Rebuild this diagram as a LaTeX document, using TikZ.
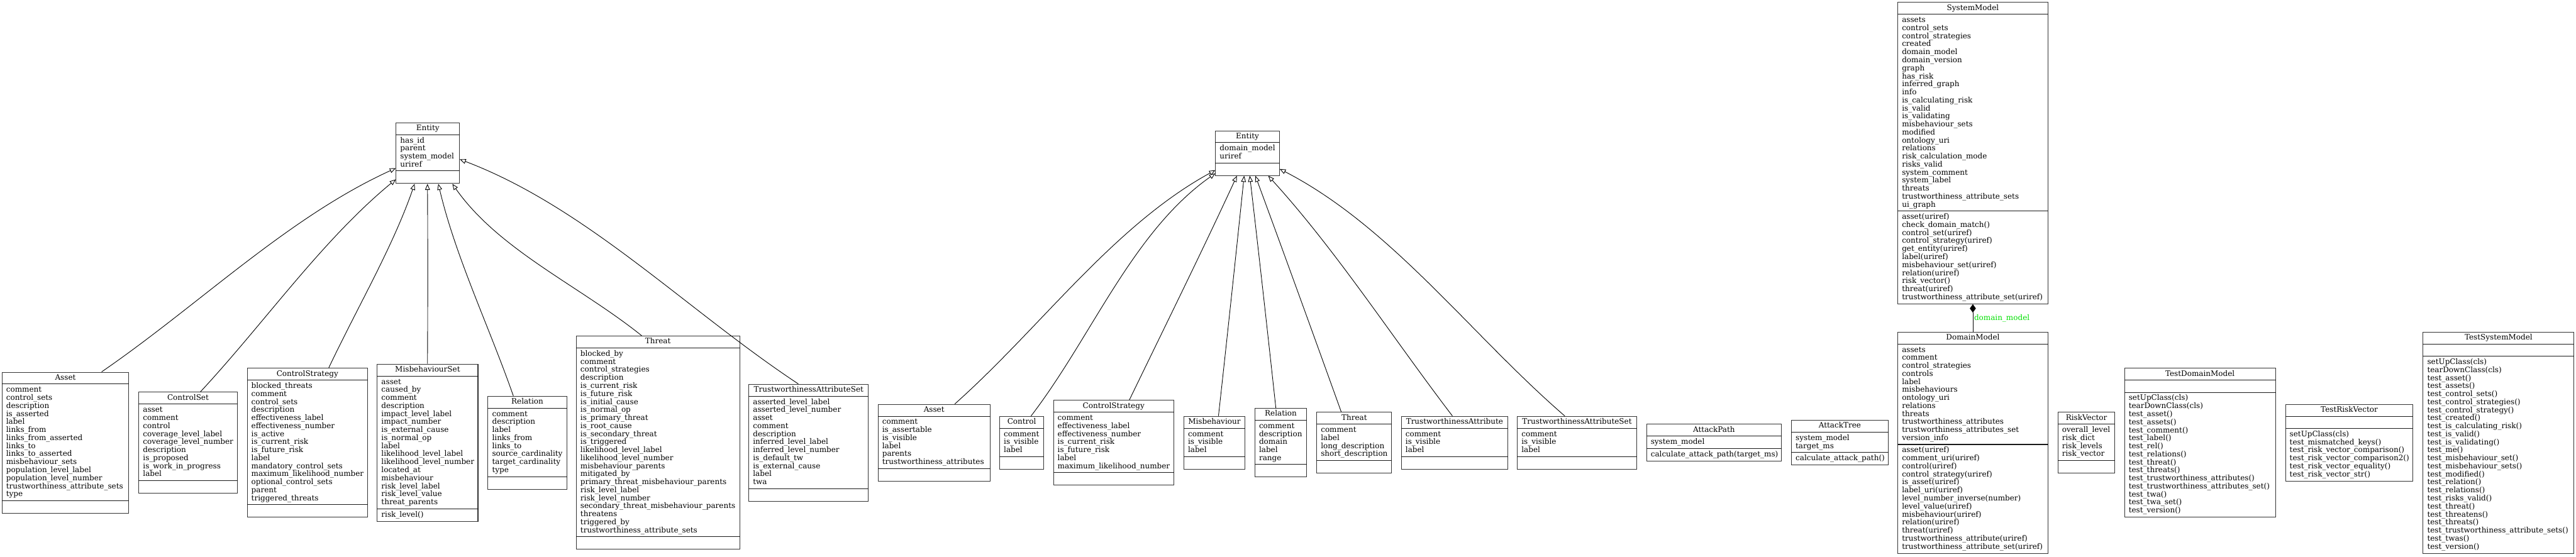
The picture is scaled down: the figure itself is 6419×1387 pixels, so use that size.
\documentclass[tikz,border=0pt]{standalone}
\usepackage{fontspec}
\usepackage{array}
\setmainfont{DejaVu Serif}
\usetikzlibrary{arrows.meta,calc}
\definecolor{lblgreen}{HTML}{00E000}
\newcommand\rowstrut{\vrule width0pt height15pt depth5pt}
\newcolumntype{L}{>{\rowstrut}l}
\newcolumntype{C}{>{\rowstrut}c}
\tikzset{
  clsbox/.style={draw=black!80, line width=1.6pt, fill=white, inner sep=0pt, rectangle},
  ttl/.style={inner sep=0pt, font=\fontsize{18.8}{20}\selectfont},
  lst/.style={anchor=west, inner sep=0pt, align=left, font=\fontsize{18.8}{20}\selectfont},
  sep/.style={line width=1.6pt, black!90},
  inh/.style={line width=1.4pt, -{Triangle[open, fill=white, length=15pt, width=12pt]}},
  comp/.style={line width=1.4pt, -{Diamond[length=21pt, width=15pt]}},
}
\newcommand\umlclass[9]{%
  \pgfmathsetmacro\ha{20*max(#6,1)+10.5}%
  \pgfmathsetmacro\hm{20*max(#8,1)+10.5}%
  \pgfmathsetmacro\hh{30.5+\ha+\hm}%
  \pgfmathsetmacro\ww{#3-#2}%
  \pgfmathsetmacro\cx{(#2+#3)/2}%
  \node[clsbox, minimum width=\ww, minimum height=\hh] (#1) at (\cx,#4) {};
  \node[ttl] (#1-t) at ($(#1.north)+(0,15.25)$) {\renewcommand\arraystretch{0}\begin{tabular}{@{}C@{}}#5\end{tabular}};
  \draw[sep] ($(#1.north west)+(0,30.5)$) -- ($(#1.north east)+(0,30.5)$);
  \draw[sep] ($(#1.north west)+(0,{30.5+\ha})$) -- ($(#1.north east)+(0,{30.5+\ha})$);
  \node[lst] (#1-a) at ($(#1.north west)+(11,{30.5+\ha/2})$) {\renewcommand\arraystretch{0}\begin{tabular}{@{}L@{}}#7\end{tabular}};
  \node[lst] (#1-m) at ($(#1.north west)+(11,{30.5+\ha+\hm/2})$) {\renewcommand\arraystretch{0}\begin{tabular}{@{}L@{}}#9\end{tabular}};
}
\begin{document}
\begin{tikzpicture}[x=1pt,y=-1pt]
\useasboundingbox (0,0) rectangle (6419,1387);
\fill[white] (0,0) rectangle (6419,1387);

% ---------- top rank ----------
\umlclass{ent1}{987}{1145}{381.75}{Entity}{4}{has\_id\\parent\\system\_model\\uriref}{0}{}
\umlclass{ent2}{3029}{3188}{381.75}{Entity}{2}{domain\_model\\uriref}{0}{}
\umlclass{sm}{4729}{5103}{381.75}{SystemModel}{24}{assets\\control\_sets\\control\_strategies\\created\\domain\_model\\domain\_version\\graph\\has\_risk\\inferred\_graph\\info\\is\_calculating\_risk\\is\_valid\\is\_validating\\misbehaviour\_sets\\modified\\ontology\_uri\\relations\\risk\_calculation\_mode\\risks\_valid\\system\_comment\\system\_label\\threats\\trustworthiness\_attribute\_sets\\ui\_graph}{11}{asset(uriref)\\check\_domain\_match()\\control\_set(uriref)\\control\_strategy(uriref)\\get\_entity(uriref)\\label(uriref)\\misbehaviour\_set(uriref)\\relation(uriref)\\risk\_vector()\\threat(uriref)\\trustworthiness\_attribute\_set(uriref)}

% ---------- bottom rank ----------
\umlclass{a1}{5}{321}{1103.5}{Asset}{14}{comment\\control\_sets\\description\\is\_asserted\\label\\links\_from\\links\_from\_asserted\\links\_to\\links\_to\_asserted\\misbehaviour\_sets\\population\_level\_label\\population\_level\_number\\trustworthiness\_attribute\_sets\\type}{0}{}
\umlclass{cs1}{346}{591}{1103.5}{ControlSet}{9}{asset\\comment\\control\\coverage\_level\_label\\coverage\_level\_number\\description\\is\_proposed\\is\_work\_in\_progress\\label}{0}{}
\umlclass{cst1}{616}{916}{1103.5}{ControlStrategy}{15}{blocked\_threats\\comment\\control\_sets\\description\\effectiveness\_label\\effectiveness\_number\\is\_active\\is\_current\_risk\\is\_future\_risk\\label\\mandatory\_control\_sets\\maximum\_likelihood\_number\\optional\_control\_sets\\parent\\triggered\_threats}{0}{}
\umlclass{ms1}{940}{1191}{1103.5}{MisbehaviourSet}{16}{asset\\caused\_by\\comment\\description\\impact\_level\_label\\impact\_number\\is\_external\_cause\\is\_normal\_op\\label\\likelihood\_level\_label\\likelihood\_level\_number\\located\_at\\misbehaviour\\risk\_level\_label\\risk\_level\_value\\threat\_parents}{1}{risk\_level()}
\umlclass{rel1}{1216}{1412}{1103.5}{Relation}{8}{comment\\description\\label\\links\_from\\links\_to\\source\_cardinality\\target\_cardinality\\type}{0}{}
\umlclass{thr1}{1436}{1843}{1103.5}{Threat}{23}{blocked\_by\\comment\\control\_strategies\\description\\is\_current\_risk\\is\_future\_risk\\is\_initial\_cause\\is\_normal\_op\\is\_primary\_threat\\is\_root\_cause\\is\_secondary\_threat\\is\_triggered\\likelihood\_level\_label\\likelihood\_level\_number\\misbehaviour\_parents\\mitigated\_by\\primary\_threat\_misbehaviour\_parents\\risk\_level\_label\\risk\_level\_number\\secondary\_threat\_misbehaviour\_parents\\threatens\\triggered\_by\\trustworthiness\_attribute\_sets}{0}{}
\umlclass{tas1}{1866}{2164}{1103.5}{TrustworthinessAttributeSet}{11}{asserted\_level\_label\\asserted\_level\_number\\asset\\comment\\description\\inferred\_level\_label\\inferred\_level\_number\\is\_default\_tw\\is\_external\_cause\\label\\twa}{0}{}

\umlclass{a2}{2188}{2467}{1103.5}{Asset}{6}{comment\\is\_assertable\\is\_visible\\label\\parents\\trustworthiness\_attributes}{0}{}
\umlclass{ctl2}{2491}{2601}{1103.5}{Control}{3}{comment\\is\_visible\\label}{0}{}
\umlclass{cst2}{2625}{2925}{1103.5}{ControlStrategy}{7}{comment\\effectiveness\_label\\effectiveness\_number\\is\_current\_risk\\is\_future\_risk\\label\\maximum\_likelihood\_number}{0}{}
\umlclass{mis2}{2950}{3102}{1103.5}{Misbehaviour}{3}{comment\\is\_visible\\label}{0}{}
\umlclass{rel2}{3127}{3256}{1103.5}{Relation}{5}{comment\\description\\domain\\label\\range}{0}{}
\umlclass{thr2}{3281}{3468}{1103.5}{Threat}{4}{comment\\label\\long\_description\\short\_description}{0}{}
\umlclass{ta2}{3492}{3757}{1103.5}{TrustworthinessAttribute}{3}{comment\\is\_visible\\label}{0}{}
\umlclass{tas2}{3781}{4078}{1103.5}{TrustworthinessAttributeSet}{3}{comment\\is\_visible\\label}{0}{}
\umlclass{ap}{4103}{4439}{1103.5}{AttackPath}{1}{system\_model}{1}{calculate\_attack\_path(target\_ms)}
\umlclass{at}{4464}{4705}{1103.5}{AttackTree}{2}{system\_model\\target\_ms}{1}{calculate\_attack\_path()}
\umlclass{dm}{4729}{5103}{1103.5}{DomainModel}{12}{assets\\comment\\control\_strategies\\controls\\label\\misbehaviours\\ontology\_uri\\relations\\threats\\trustworthiness\_attributes\\trustworthiness\_attributes\_set\\version\_info}{13}{asset(uriref)\\comment\_uri(uriref)\\control(uriref)\\control\_strategy(uriref)\\is\_asset(uriref)\\label\_uri(uriref)\\level\_number\_inverse(number)\\level\_value(uriref)\\misbehaviour(uriref)\\relation(uriref)\\threat(uriref)\\trustworthiness\_attribute(uriref)\\trustworthiness\_attribute\_set(uriref)}
\umlclass{rv}{5128}{5270}{1103.5}{RiskVector}{4}{overall\_level\\risk\_dict\\risk\_levels\\risk\_vector}{0}{}
\umlclass{tdm}{5294}{5670}{1103.5}{TestDomainModel}{0}{}{15}{setUpClass(cls)\\tearDownClass(cls)\\test\_asset()\\test\_assets()\\test\_comment()\\test\_label()\\test\_rel()\\test\_relations()\\test\_threat()\\test\_threats()\\test\_trustworthiness\_attributes()\\test\_trustworthiness\_attributes\_set()\\test\_twa()\\test\_twa\_set()\\test\_version()}
\umlclass{trv}{5695}{6013}{1103.5}{TestRiskVector}{0}{}{6}{setUpClass(cls)\\test\_mismatched\_keys()\\test\_risk\_vector\_comparison()\\test\_risk\_vector\_comparison2()\\test\_risk\_vector\_equality()\\test\_risk\_vector\_str()}
\umlclass{tsm}{6038}{6414}{1103.5}{TestSystemModel}{0}{}{24}{setUpClass(cls)\\tearDownClass(cls)\\test\_asset()\\test\_assets()\\test\_control\_sets()\\test\_control\_strategies()\\test\_control\_strategy()\\test\_created()\\test\_is\_calculating\_risk()\\test\_is\_valid()\\test\_is\_validating()\\test\_me()\\test\_misbehaviour\_set()\\test\_misbehaviour\_sets()\\test\_modified()\\test\_relation()\\test\_relations()\\test\_risks\_valid()\\test\_threat()\\test\_threatens()\\test\_threats()\\test\_trustworthiness\_attribute\_sets()\\test\_twas()\\test\_version()}

% ---------- inheritance to left Entity ----------
\draw[inh] ($(a1.north west)+(249,0)$) .. controls (495.9,760.2) and (717,542) .. ($(ent1.north west)+(0,114)$);
\draw[inh] ($(cs1.north west)+(154,0)$) .. controls (660.7,803) and (801.2,599.9) .. ($(ent1.north west)+(0,142)$);
\draw[inh] ($(cst1.north west)+(204,0)$) .. controls (890.6,766) and (978.2,616.9) .. ($(ent1.south west)+(47,0)$);
\draw[inh] ($(ms1.north west)+(126,0)$) .. controls (1066,759.3) and (1066,608) .. ($(ent1.south west)+(79,0)$);
\draw[inh] ($(rel1.north west)+(64,0)$) .. controls (1218.3,812.9) and (1135.1,640.4) .. ($(ent1.south west)+(106,0)$);
\draw[inh] ($(thr1.north west)+(164,0)$) .. controls (1444.2,712.4) and (1243.1,623.6) .. ($(ent1.south west)+(141,0)$);
\draw[inh] ($(tas1.north west)+(124,0)$) .. controls (1711.1,773) and (1461.3,516.9) .. ($(ent1.north east)+(0,92)$);

% ---------- inheritance to middle Entity ----------
\draw[inh] ($(a2.north west)+(192,0)$) .. controls (2594.2,815.5) and (2773.5,563.7) .. ($(ent2.north west)+(0,99)$);
\draw[inh] ($(ctl2.north west)+(79,0)$) .. controls (2721.5,838.2) and (2821.5,577.7) .. ($(ent2.north west)+(0,107)$);
\draw[inh] ($(cst2.north west)+(190,0)$) .. controls (2903.4,812.7) and (2996,625.1) .. ($(ent2.south west)+(54,0)$);
\draw[inh] ($(mis2.north west)+(87,0)$) .. controls (3058.1,839.5) and (3079.5,637.2) .. ($(ent2.south west)+(72,0)$);
\draw[inh] ($(rel2.north west)+(53,0)$) .. controls (3158.5,826.1) and (3136.6,630.6) .. ($(ent2.south west)+(86,0)$);
\draw[inh] ($(thr2.north west)+(62,0)$) .. controls (3272.4,832.8) and (3200.2,633.8) .. ($(ent2.south west)+(100,0)$);
\draw[inh] ($(ta2.north west)+(128,0)$) .. controls (3468.5,839.5) and (3329.6,624.2) .. ($(ent2.south west)+(132,0)$);
\draw[inh] ($(tas2.north west)+(119,0)$) .. controls (3665,834.5) and (3467.3,564.8) .. ($(ent2.north east)+(0,96)$);

% ---------- composition ----------
\draw[comp] (dm.north) -- (sm.south);
\node[anchor=west, inner sep=0pt, text=lblgreen, font=\fontsize{18.8}{20}\selectfont] (lbl) at ($(sm.south)+(3,35)$) {domain\_model};
\end{tikzpicture}
\end{document}
